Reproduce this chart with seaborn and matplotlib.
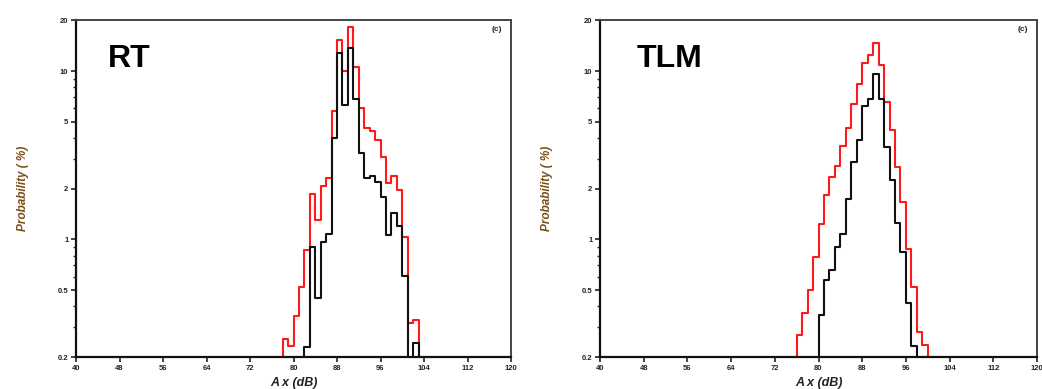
import numpy as np
import pandas as pd
import matplotlib
matplotlib.use("Agg")
import matplotlib.pyplot as plt
import seaborn as sns
from matplotlib.ticker import FixedLocator, FixedFormatter, NullFormatter

# ---------------- data (probability in %, 1 dB bins, left edges) ----------------
rt_red_start = 78
rt_red = [0.255, 0.232, 0.35, 0.52, 0.86, 1.87, 1.30, 2.08, 2.33, 5.8, 15.3, 10.0,
          18.4, 10.6, 6.07, 4.6, 4.4, 3.9, 3.1, 2.15, 2.38, 1.96, 1.04, 0.317, 0.33]
rt_black_start = 82
rt_black = [0.23, 0.90, 0.45, 0.97, 1.08, 4.0, 12.8, 6.3, 13.8, 6.8, 3.24, 2.33,
            2.38, 2.18, 1.79, 1.06, 1.44, 1.20, 0.61, 0.0, 0.243]

tlm_red_start = 76
tlm_red = [0.27, 0.363, 0.50, 0.79, 1.24, 1.83, 2.35, 2.72, 3.57, 4.62, 6.41, 8.42,
           11.2, 12.4, 14.6, 10.9, 6.6, 4.45, 2.69, 1.67, 0.88, 0.52, 0.28, 0.236]
tlm_black_start = 80
tlm_black = [0.355, 0.573, 0.66, 0.90, 1.08, 1.75, 2.88, 3.92, 6.2, 6.86, 9.66, 6.86,
             3.54, 2.24, 1.25, 0.84, 0.42, 0.232]

panel_titles = ["RT", "TLM"]
xticks = [40, 48, 56, 64, 72, 80, 88, 96, 104, 112, 120]
yticks = [0.2, 0.5, 1, 2, 5, 10, 20]
ytick_labels = ["0.2", "0.5", "1", "2", "5", "10", "20"]
yminor = [0.3, 0.4, 0.6, 0.7, 0.8, 0.9, 3, 4, 6, 7, 8, 9]
xlabel = "A x (dB)"
ylabel = "Probability ( %)"

sns.set_theme(style="white")
plt.rcParams["font.family"] = ["Liberation Sans", "DejaVu Sans"]

fig = plt.figure(figsize=(10.42, 3.89), dpi=100)
H = 389.0
W = 1042.0
ax_bottom = (H - 357) / H
ax_height = (357 - 20.5) / H
axes = [fig.add_axes([76 / W, ax_bottom, 435 / W, ax_height]),
        fig.add_axes([600 / W, ax_bottom, 437 / W, ax_height])]

def draw_hist(ax, start, vals, color, lw):
    n = len(vals)
    centers = [start + i + 0.5 for i in range(n)]
    edges = [float(e) for e in range(start - 1, start + n + 2)]
    df = pd.DataFrame({"x": centers, "w": vals})
    sns.histplot(data=df, x="x", weights="w", bins=edges, element="step",
                 fill=False, color=color, linewidth=lw, ax=ax, stat="count")

series = [
    [(rt_red_start, rt_red, "#ff1a1a"), (rt_black_start, rt_black, "#111111")],
    [(tlm_red_start, tlm_red, "#ff1a1a"), (tlm_black_start, tlm_black, "#111111")],
]

for ax, title, ser in zip(axes, panel_titles, series):
    for start, vals, col in ser:
        draw_hist(ax, start, vals, col, 1.5)
    ax.set_yscale("log")
    ax.set_xlim(40, 120)
    ax.set_ylim(0.2, 20)
    ax.xaxis.set_major_locator(FixedLocator(xticks))
    ax.yaxis.set_major_locator(FixedLocator(yticks))
    ax.yaxis.set_major_formatter(FixedFormatter(ytick_labels))
    ax.yaxis.set_minor_locator(FixedLocator(yminor))
    ax.yaxis.set_minor_formatter(NullFormatter())
    ax.set_xticklabels([str(t) for t in xticks])
    ax.tick_params(axis="both", which="major", direction="out", length=3.5, width=1.2,
                   labelsize=5.5, colors="#222222", pad=2)
    ax.tick_params(axis="y", which="minor", direction="out", length=2.5, width=1.0,
                   colors="#222222", left=True)
    ax.tick_params(axis="both", which="both", bottom=True, left=True, top=False, right=False)
    for lab in ax.get_xticklabels() + ax.get_yticklabels():
        lab.set_fontweight("bold")
    for s in ["left", "bottom"]:
        ax.spines[s].set_linewidth(1.6)
        ax.spines[s].set_color("#111111")
    for s in ["top", "right"]:
        ax.spines[s].set_linewidth(1.4)
        ax.spines[s].set_color("#444444")
    ax.set_xlabel(xlabel, fontsize=9, fontweight="bold", fontstyle="italic", color="#222222")
    ax.set_ylabel(ylabel, fontsize=8.5, fontweight="bold", fontstyle="italic", color="#7a4e16")
    ax.xaxis.set_label_coords(0.5, -0.058)
    ax.yaxis.set_label_coords(-0.108, 0.5)
    ax.text(0.073 if title == "RT" else 0.083, 0.885, title, transform=ax.transAxes,
            fontsize=23, fontweight="bold", color="black", ha="left", va="center")
    ax.text(0.968, 0.972, "(c)", transform=ax.transAxes, fontsize=6, fontweight="bold",
            color="#222222", ha="center", va="center")
    ax.grid(False)

fig.savefig("out.png", dpi=100)
